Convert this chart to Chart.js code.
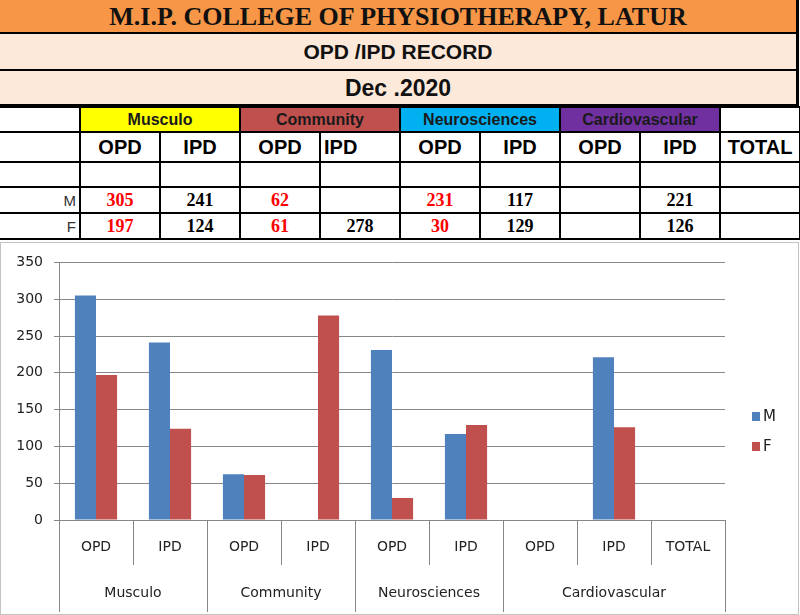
<!DOCTYPE html>
<html>
<head>
<meta charset="utf-8">
<script src="https://cdn.jsdelivr.net/npm/chart.js@4.4.0/dist/chart.umd.min.js"></script>
<style>
body { margin:0; width:800px; height:615px; overflow:hidden; background:#fff; position:relative; font-family:"Liberation Sans", Arial, sans-serif; }
.band { position:absolute; left:0; width:796px; border-right:3px solid #000; text-align:center; font-weight:bold; color:#111; }
#b1 { top:0; height:32px; line-height:33px; background:#F79646; border-bottom:2px solid #000; font-family:"Liberation Serif", serif; font-size:26px; }
#b2 { top:34px; height:35px; line-height:36px; background:#FDE9D9; border-bottom:2px solid #000; font-size:21px; }
#b3 { top:71px; height:33px; line-height:35px; background:#FDE9D9; border-bottom:3px solid #000; font-size:23px; }
#tbl { position:absolute; left:0; top:106px; border-collapse:collapse; table-layout:fixed; width:799px; }
#tbl td { border:2px solid #000; padding:0; text-align:center; overflow:hidden; white-space:nowrap; }
#tbl td.first { border-left:none; text-align:right; padding-right:3px; font-size:15px; color:#333; }
#tbl tr.grp td { height:23px; font-weight:bold; font-size:16px; color:#1a1a1a; }
#tbl tr.sub td { height:28px; font-weight:bold; font-size:20px; color:#000; }
#tbl tr.blank td { height:23px; }
#tbl tr.val td { height:24px; font-family:"Liberation Serif", serif; font-weight:bold; font-size:18px; color:#000; }
#tbl tr.val td.red { color:#FF0000; }
#tbl tr.val td.first { font-family:"Liberation Sans", sans-serif; font-weight:normal; font-size:15px; color:#333; }
#wrap { position:absolute; left:0; top:242px; width:797px; height:371px; border:1px solid #c4c4c4; }
</style>
</head>
<body>
<div class="band" id="b1">M.I.P. COLLEGE OF PHYSIOTHERAPY, LATUR</div>
<div class="band" id="b2">OPD /IPD RECORD</div>
<div class="band" id="b3">Dec .2020</div>
<table id="tbl"></table>
<div id="wrap"><canvas id="myChart"></canvas></div>
<script>
// data
const groups = ['Musculo', 'Community', 'Neurosciences', 'Cardiovascular'];
const groupSpans = [2, 2, 2, 3];
const subLabels = ['OPD', 'IPD', 'OPD', 'IPD', 'OPD', 'IPD', 'OPD', 'IPD', 'TOTAL'];
const seriesNames = ['M', 'F'];
const maleValues = [305, 241, 62, null, 231, 117, null, 221, null];
const femaleValues = [197, 124, 61, 278, 30, 129, null, 126, null];
const yMin = 0, yMax = 350, yStep = 50;

const groupFills = ['#FFFF00', '#C0504D', '#00B0F0', '#7030A0'];
const seriesColors = ['#4F81BD', '#C0504D'];

// table above the chart
const tbl = document.querySelector('#tbl');
let html = '<colgroup><col style="width:80px">';
subLabels.forEach(() => html += '<col style="width:80px">');
html += '</colgroup>';

html += '<tr class="grp"><td class="first"></td>';
groups.forEach((g, i) => {
    html += `<td colspan="2" style="background:${groupFills[i]}">${g}</td>`;
});
html += '<td></td></tr>';

html += '<tr class="sub"><td class="first"></td>';
subLabels.forEach((s, i) => {
    const align = i === 3 ? ' style="text-align:left;padding-left:3px"' : '';
    html += `<td${align}>${s}</td>`;
});
html += '</tr>';

html += '<tr class="blank"><td class="first"></td>';
subLabels.forEach(() => html += '<td></td>');
html += '</tr>';

[maleValues, femaleValues].forEach((vals, k) => {
    html += `<tr class="val"><td class="first">${seriesNames[k]}</td>`;
    vals.forEach((v, i) => {
        const cls = subLabels[i] === 'OPD' ? ' class="red"' : '';
        html += `<td${cls}>${v === null ? '' : v}</td>`;
    });
    html += '</tr>';
});
tbl.innerHTML = html;

// group labels, separators and legend under / beside the plot
const groupAxis = {
    id: 'groupAxis',
    afterDraw(chart) {
        const { ctx, chartArea: a, scales: { x } } = chart;
        const w = x.width / subLabels.length;
        ctx.save();
        ctx.strokeStyle = '#878787';
        ctx.lineWidth = 1;
        ctx.font = '14px "DejaVu Sans"';
        ctx.fillStyle = '#222';
        ctx.textAlign = 'center';
        ctx.textBaseline = 'middle';
        let start = 0;
        const edges = [];
        groups.forEach((g, i) => {
            const left = x.getPixelForValue(start) - w / 2;
            const right = x.getPixelForValue(start + groupSpans[i] - 1) + w / 2;
            ctx.fillText(g, (left + right) / 2, a.bottom + 73);
            edges.push(left, right);
            start += groupSpans[i];
        });
        edges.forEach(e => {
            ctx.beginPath();
            ctx.moveTo(Math.round(e) + 0.5, a.bottom);
            ctx.lineTo(Math.round(e) + 0.5, chart.height - 2);
            ctx.stroke();
        });

        // legend
        ctx.font = '15px "DejaVu Sans"';
        ctx.textAlign = 'left';
        const y0 = chart.height / 2 - 12;
        chart.data.datasets.forEach((ds, i) => {
            const y = y0 + i * 30;
            ctx.fillStyle = ds.backgroundColor;
            ctx.fillRect(a.right + 27, y - 4.5, 8, 9);
            ctx.fillStyle = '#222';
            ctx.fillText(ds.label, a.right + 38, y + 1);
        });
        ctx.restore();
    }
};

const ctx = document.querySelector('#myChart').getContext('2d');
const myChart = new Chart(ctx, {
    type: 'bar',
    data: {
        labels: subLabels,
        datasets: [
            { label: seriesNames[0], data: maleValues, backgroundColor: seriesColors[0] },
            { label: seriesNames[1], data: femaleValues, backgroundColor: seriesColors[1] }
        ]
    },
    plugins: [groupAxis],
    options: {
        responsive: true,
        maintainAspectRatio: false,
        animation: false,
        categoryPercentage: 0.57,
        barPercentage: 1.0,
        layout: { padding: { top: 18, right: 73, bottom: 0, left: 0 } },
        plugins: { legend: { display: false }, tooltip: { enabled: false } },
        scales: {
            x: {
                afterFit: s => { s.height = 94; },
                grid: { offset: true, drawOnChartArea: false, tickLength: 45, color: '#878787' },
                border: { color: '#878787' },
                ticks: { padding: -26, color: '#222', font: { family: 'DejaVu Sans', size: 14 }, maxRotation: 0, autoSkip: false }
            },
            y: {
                min: yMin,
                max: yMax,
                afterFit: s => { s.width = 58; },
                grid: { color: '#878787', tickLength: 5 },
                border: { color: '#878787' },
                ticks: { stepSize: yStep, padding: 11, color: '#222', font: { family: 'DejaVu Sans', size: 14 } }
            }
        }
    }
});
</script>
</body>
</html>
